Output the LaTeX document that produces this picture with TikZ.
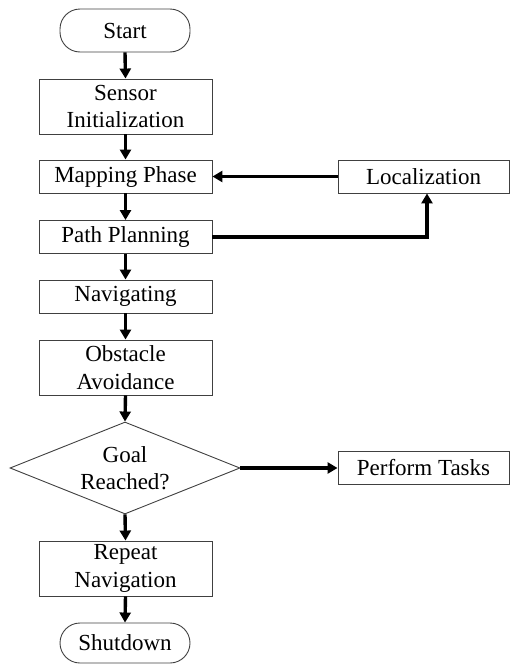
\documentclass[tikz,border=0pt]{standalone}
\usepackage{fontspec}
\setmainfont{Liberation Serif}
\usetikzlibrary{arrows.meta,shapes.geometric}
\begin{document}
\begin{tikzpicture}[x=1pt,y=-1pt,
  every node/.style={font=\fontsize{23}{27.6}\selectfont, align=center, inner sep=0pt},
  procbox/.style={draw=black!75, line width=0.9pt, rectangle, minimum width=173pt},
  sidebox/.style={draw=black!75, line width=0.9pt, rectangle, minimum width=171pt, minimum height=33pt},
  termbox/.style={draw=black!75, line width=0.9pt, rectangle, rounded corners=20pt, minimum width=130pt},
  decbox/.style={draw=black!75, line width=0.9pt, diamond, shape aspect=2.5, minimum width=230pt, minimum height=92pt},
  arr/.style={line width=3.4pt, -{Triangle[length=10pt,width=11pt]}}]
\useasboundingbox (0,0) rectangle (510,664);
\node[termbox, minimum height=43pt] (start) at (125,30.5) {Start};
\node[procbox, minimum height=55pt] (sensor) at (125.5,106.5) {Sensor\\Initialization};
\node[procbox, minimum height=33pt] (mapping) at (125.5,176.5) {Mapping Phase};
\node[procbox, minimum height=33pt] (path) at (125.5,237) {Path Planning};
\node[procbox, minimum height=33pt] (nav) at (125.5,296.5) {Navigating};
\node[procbox, minimum height=55pt] (obst) at (125.5,367.5) {Obstacle\\Avoidance};
\node[decbox] (goal) at (125,468) {Goal\\Reached?};
\node[sidebox] (perf) at (423.5,468) {Perform Tasks};
\node[procbox, minimum height=55pt] (repeat) at (125.5,568.5) {Repeat\\Navigation};
\node[termbox, minimum height=40pt] (shut) at (125,643) {Shutdown};
\node[sidebox] (loc) at (423.5,176.5) {Localization};
\draw[arr] (start.south) -- (sensor.north);
\draw[arr] (sensor.south) -- (mapping.north);
\draw[arr] (mapping.south) -- (path.north);
\draw[arr] (path.south) -- (nav.north);
\draw[arr] (nav.south) -- (obst.north);
\draw[arr] (obst.south) -- (goal.north);
\draw[arr] (goal.east) -- (perf.west);
\draw[arr] (goal.south) -- (repeat.north);
\draw[arr] (repeat.south) -- (shut.north);
\draw[arr] (loc.west) -- (mapping.east);
\draw[arr] (path.east) -| ([xshift=3.5pt]loc.south);
\end{tikzpicture}
\end{document}
